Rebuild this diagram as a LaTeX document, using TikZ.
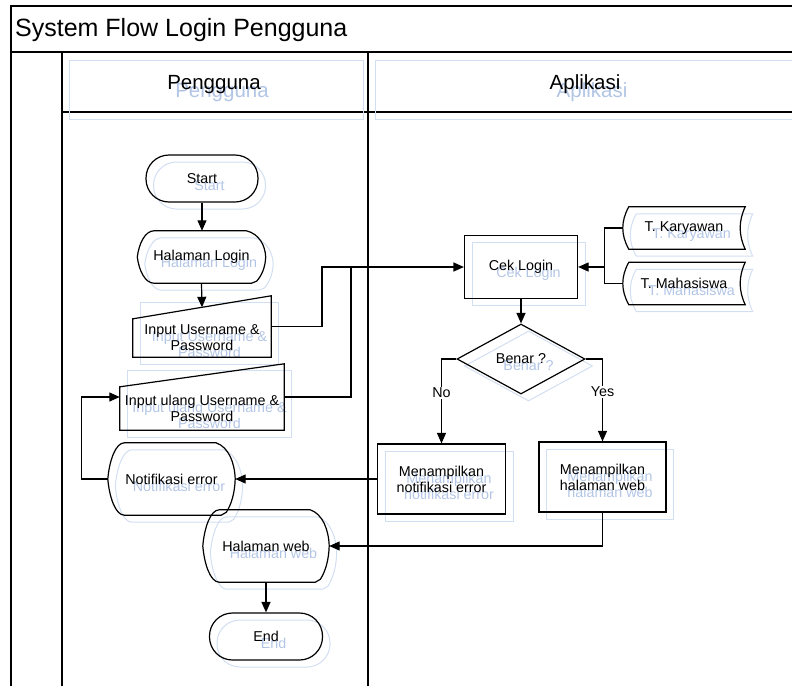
\documentclass[tikz,border=0pt]{standalone}
\usepackage{fontspec}
\setmainfont{Liberation Sans}
\usetikzlibrary{arrows.meta,shapes.geometric,calc}

\definecolor{ghostline}{RGB}{210,222,241}
\definecolor{ghosttext}{RGB}{178,197,229}

% display symbol: pointed left side, bulging right side
\newcommand\dispoutline[2]{%
  \draw[shapeline,#1] let \p1=(#2.north west), \p2=(#2.south east),
      \n1={\x2-\x1}, \n2={\y1-\y2}, \n3={(\y1+\y2)/2} in
    (\x1,\n3)
    .. controls ({\x1+0.012*\n1},{\n3+0.25*\n2}) and ({\x1+0.06*\n1},\y1) .. ({\x1+0.13*\n1},\y1)
    -- ({\x2-0.15*\n1},\y1)
    .. controls ({\x2-0.05*\n1},{\y1-0.06*\n2}) and ({\x2-0.004*\n1},{\n3+0.22*\n2}) .. (\x2,\n3)
    .. controls ({\x2-0.004*\n1},{\n3-0.2*\n2}) and ({\x2-0.03*\n1},{\y2+0.15*\n2}) .. ({\x2-0.07*\n1},{\y2+0.04*\n2})
    -- ({\x2-0.11*\n1},\y2)
    -- ({\x1+0.13*\n1},\y2)
    .. controls ({\x1+0.06*\n1},\y2) and ({\x1+0.012*\n1},{\n3-0.25*\n2}) .. (\x1,\n3) -- cycle;}

% manual input: the node is the lower block, the sloped top rises to the right
\newcommand\manoutline[2]{%
  \draw[shapeline,#1] (#2.south west) -- (#2.south east)
    -- ([yshift=23pt]#2.north east) -- (#2.north west) -- cycle;}

% stored data: curved left and right ends
\newcommand\storeoutline[2]{%
  \draw[shapeline,#1] let \p1=(#2.north west), \p2=(#2.south east), \n2={\y1-\y2} in
    ({\x1+6pt},\y1) -- (\x2,\y1)
    .. controls ({\x2-6.7pt},{\y1-\n2/3}) and ({\x2-6.7pt},{\y2+\n2/3}) .. (\x2,\y2)
    -- ({\x1+6pt},\y2)
    .. controls ({\x1-2pt},{\y2+\n2/3}) and ({\x1-2pt},{\y1-\n2/3}) .. ({\x1+6pt},\y1) -- cycle;}

\begin{document}
\begin{tikzpicture}[x=1pt,y=-1pt,
  txt/.style={font=\fontsize{14.3}{16}\selectfont, align=center, inner sep=0pt},
  hdr/.style={font=\fontsize{20.5}{24}\selectfont, inner sep=0pt},
  shapeline/.style={line width=1.2pt},
  term/.style={txt, rectangle, rounded corners=23pt, minimum width=112pt, minimum height=47pt, line width=1.2pt},
  proc/.style={txt, rectangle, minimum width=128pt, minimum height=70pt, line width=1.2pt},
  decis/.style={txt, diamond, aspect=1.83, minimum width=128pt, minimum height=70pt, line width=1.2pt},
  bare/.style={txt, rectangle},
  ink/.style={draw=black, text=black},
  ghost/.style={draw=ghostline, text=ghosttext, line width=1pt},
  ghostl/.style={draw=ghostline, line width=1pt},
  conn/.style={line width=1.2pt},
  arr/.style={conn, -{Triangle[length=10.5pt,width=9pt]}},
  lane/.style={line width=1.6pt},
  lbl/.style={font=\fontsize{14.3}{16}\selectfont, fill=white, inner sep=1pt}
]
\useasboundingbox (0,0) rectangle (792,686);

% ---------- swimlane frame ----------
\draw[lane] (11,686) -- (11,6) -- (792,6);
\draw[lane] (11,52) -- (792,52);
\draw[lane] (62,52) -- (62,686);
\draw[lane] (368,52) -- (368,686);
\draw[line width=1.3pt] (62,112) -- (792,112);

% header text blocks (light copies)
\draw[ghostl] (69,60.5) rectangle (363,119);
\draw[ghostl] (792,60.5) -- (375.5,60.5) -- (375.5,119) -- (792,119);

\node[anchor=base west, font=\fontsize{25}{28}\selectfont, inner sep=0pt] (title) at (15,36.5) {System Flow Login Pengguna};
\node[hdr, anchor=base, text=ghosttext] (gpengguna) at (222,97.5) {Pengguna};
\node[hdr, anchor=base, text=ghosttext] (gaplikasi) at (592,97.5) {Aplikasi};
\node[hdr, anchor=base] (pengguna) at (214,89.5) {Pengguna};
\node[hdr, anchor=base] (aplikasi) at (585,89.5) {Aplikasi};

% ---------- light offset copies of the symbols ----------
\begin{scope}[shift={(7.5,7)}]
  \node[term, ghost] (gstart) at (202,178.5) {Start};
  \node[bare, text=ghosttext, minimum width=128pt, minimum height=52pt] (ghlogin) at (201.5,257) {Halaman Login};
  \dispoutline{ghostl}{ghlogin}
  \node[bare, text=ghosttext, minimum width=138pt, minimum height=38pt] (gin1) at (202,338) {Input Username \&\\Password};
  \draw[ghostl] ([yshift=23pt]gin1.north west) rectangle (gin1.south east);
  \node[bare, text=ghosttext, minimum width=164pt, minimum height=43pt] (gin2) at (202,408.5) {Input ulang Username \&\\Password};
  \draw[ghostl] ([yshift=23pt]gin2.north west) rectangle (gin2.south east);
  \node[bare, text=ghosttext, minimum width=127pt, minimum height=72pt] (gnerr) at (171.5,479) {Notifikasi error};
  \dispoutline{ghostl}{gnerr}
  \node[bare, text=ghosttext, minimum width=126pt, minimum height=72pt] (ghweb) at (266,546) {Halaman web};
  \dispoutline{ghostl}{ghweb}
  \node[term, ghost, minimum width=113pt] (gend) at (266,636.5) {End};
  \node[proc, ghost, minimum width=113pt, minimum height=63pt] (gcek) at (521,267) {Cek Login};
  \node[bare, text=ghosttext, minimum width=122pt, minimum height=42pt] (gtk) at (684,228) {T. Karyawan};
  \storeoutline{ghostl}{gtk}
  \node[bare, text=ghosttext, minimum width=122pt, minimum height=42pt] (gtm) at (684,283.5) {T. Mahasiswa};
  \storeoutline{ghostl}{gtm}
  \node[decis, ghost] (gdec) at (521,359) {Benar ?};
  \node[proc, ghost] (gmnotif) at (441.5,479) {Menampilkan\\notifikasi error};
  \node[proc, ghost, minimum width=127pt] (gmweb) at (602.5,477) {Menampilkan\\halaman web};
\end{scope}

% ---------- symbols ----------
\node[term, ink] (start) at (202,178.5) {Start};
\node[bare, minimum width=128pt, minimum height=52pt] (hlogin) at (201.5,257) {Halaman Login};
\dispoutline{draw=black}{hlogin}
\node[bare, minimum width=138pt, minimum height=38pt] (in1) at (202,338) {Input Username \&\\Password};
\manoutline{draw=black}{in1}
\node[bare, minimum width=164pt, minimum height=43pt] (in2) at (202,408.5) {Input ulang Username \&\\Password};
\manoutline{draw=black}{in2}
\node[bare, minimum width=127pt, minimum height=72pt] (nerr) at (171.5,479) {Notifikasi error};
\dispoutline{draw=black}{nerr}
\node[bare, minimum width=126pt, minimum height=72pt] (hweb) at (266,546) {Halaman web};
\dispoutline{draw=black}{hweb}
\node[term, ink, minimum width=113pt] (end) at (266,636.5) {End};

\node[proc, ink, minimum width=113pt, minimum height=63pt] (cek) at (521,267) {Cek Login};
\node[bare, minimum width=122pt, minimum height=42pt] (tk) at (684,228) {T. Karyawan};
\storeoutline{draw=black}{tk}
\node[bare, minimum width=122pt, minimum height=42pt] (tm) at (684,283.5) {T. Mahasiswa};
\storeoutline{draw=black}{tm}
\node[decis, ink] (dec) at (521,359) {Benar ?};
\node[proc, ink] (mnotif) at (441.5,479) {Menampilkan\\notifikasi error};
\node[proc, ink, minimum width=127pt] (mweb) at (602.5,477) {Menampilkan\\halaman web};

% ---------- connectors ----------
\draw[arr] (start.south) -- (start.south |- hlogin.north);
\draw[arr] (hlogin.south) -- ([yshift=11.5pt]in1.north);
\draw[arr] ([yshift=11.5pt]in1.east) -- ++(50.7,0) |- (cek.west);
\coordinate (merge) at (351,267);
\draw[conn] ([yshift=11.5pt]in2.east) -| (merge);
\draw[conn] (tk.west) -- ++(-18.7,0) coordinate (bus) -- (bus |- tm.west) -- (tm.west);
\draw[arr] (bus |- cek.east) -- (cek.east);
\draw[arr] (cek.south) -- (dec.north);
\draw[arr] (dec.west) -| node[lbl, pos=0.7] (no) {No} (mnotif.north);
\draw[arr] (dec.east) -| node[lbl, pos=0.7] (yes) {Yes} (mweb.north);
\draw[arr] (mnotif.west) -- (nerr.east);
\draw[arr] (mweb.south) |- (hweb.east);
\draw[arr] (nerr.west) -- ++(-26.5,0) |- ([yshift=11.5pt]in2.west);
\draw[arr] (hweb.south) -- (end.north);
\end{tikzpicture}
\end{document}
